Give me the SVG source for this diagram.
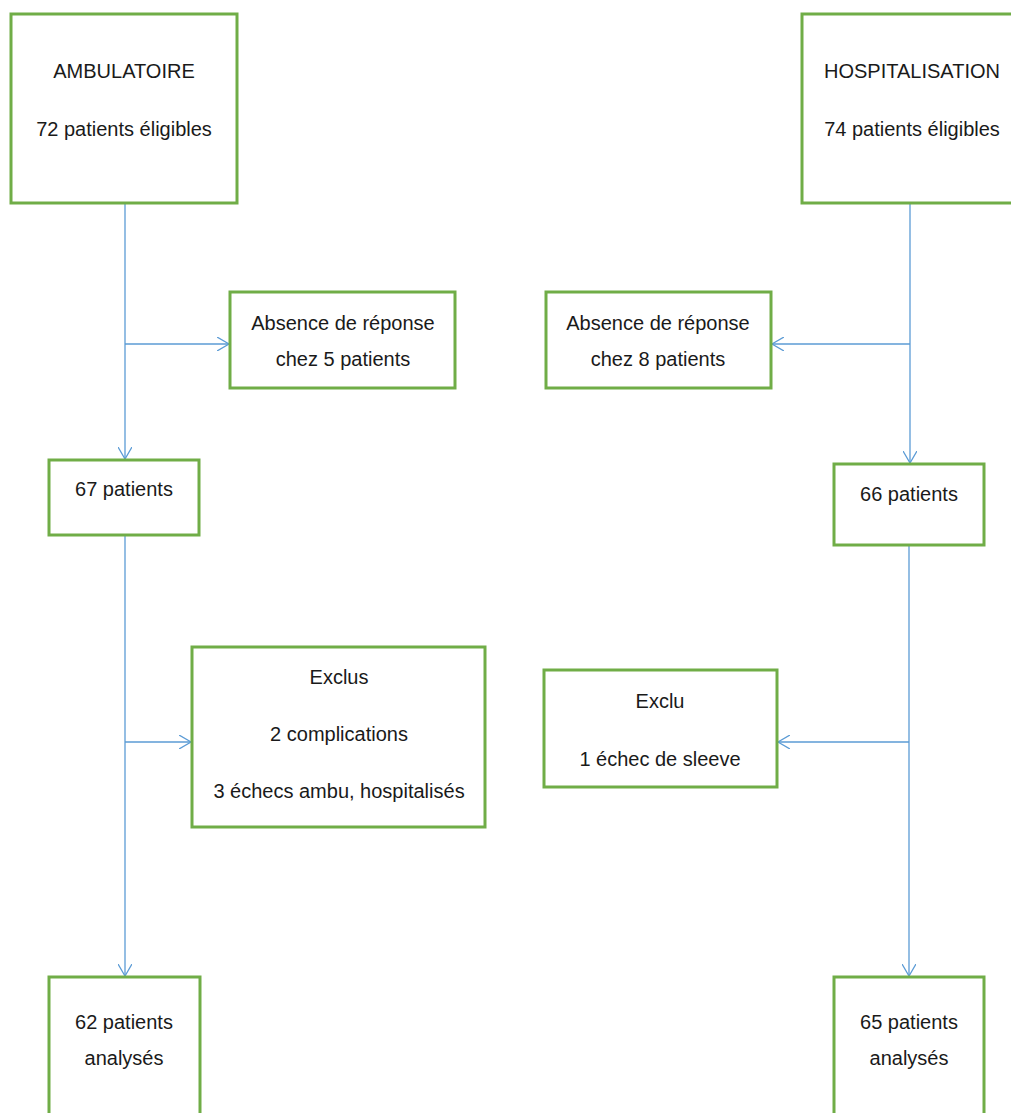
<svg xmlns="http://www.w3.org/2000/svg" width="1011" height="1113" viewBox="0 0 1011 1113">
<defs>
<style>
.box{fill:#fff;stroke:#70AD47;stroke-width:3}
.t{font-family:"Liberation Sans",Arial,sans-serif;font-size:20px;fill:#1a1a1a;text-anchor:middle}
.c{fill:none;stroke:#5B9BD5;stroke-width:1.3}
</style>
<marker id="ah" markerWidth="14" markerHeight="14" refX="12" refY="7" orient="auto" markerUnits="userSpaceOnUse">
<path d="M0,0 L12,7 L0,14" fill="none" stroke="#5B9BD5" stroke-width="1.3"/>
</marker>
</defs>
<rect width="1011" height="1113" fill="#fff"/>
<g id="connectors">
<line class="c" x1="125" y1="203" x2="125" y2="459" marker-end="url(#ah)"/>
<line class="c" x1="125" y1="344" x2="229" y2="344" marker-end="url(#ah)"/>
<line class="c" x1="125" y1="535" x2="125" y2="976" marker-end="url(#ah)"/>
<line class="c" x1="125" y1="742" x2="191" y2="742" marker-end="url(#ah)"/>
<line class="c" x1="910" y1="203" x2="910" y2="463" marker-end="url(#ah)"/>
<line class="c" x1="910" y1="344" x2="772" y2="344" marker-end="url(#ah)"/>
<line class="c" x1="909" y1="545" x2="909" y2="976" marker-end="url(#ah)"/>
<line class="c" x1="909" y1="742" x2="778" y2="742" marker-end="url(#ah)"/>
</g>
<g id="n-ambu">
<rect class="box" x="11" y="14" width="226" height="189"/>
<text class="t" x="124" y="78">AMBULATOIRE</text>
<text class="t" x="124" y="136">72 patients éligibles</text>
</g>
<g id="n-hosp">
<rect class="box" x="802" y="14" width="225" height="189"/>
<text class="t" x="912" y="78">HOSPITALISATION</text>
<text class="t" x="912" y="136">74 patients éligibles</text>
</g>
<g id="n-abs5">
<rect class="box" x="230" y="292" width="225" height="96"/>
<text class="t" x="343" y="330">Absence de réponse</text>
<text class="t" x="343" y="366">chez 5 patients</text>
</g>
<g id="n-abs8">
<rect class="box" x="546" y="292" width="225" height="96"/>
<text class="t" x="658" y="330">Absence de réponse</text>
<text class="t" x="658" y="366">chez 8 patients</text>
</g>
<g id="n-67">
<rect class="box" x="49" y="460" width="150" height="75"/>
<text class="t" x="124" y="496">67 patients</text>
</g>
<g id="n-66">
<rect class="box" x="834" y="464" width="150" height="81"/>
<text class="t" x="909" y="501">66 patients</text>
</g>
<g id="n-exclus">
<rect class="box" x="192" y="647" width="293" height="180"/>
<text class="t" x="339" y="684">Exclus</text>
<text class="t" x="339" y="741">2 complications</text>
<text class="t" x="339" y="798">3 échecs ambu, hospitalisés</text>
</g>
<g id="n-exclu">
<rect class="box" x="544" y="670" width="233" height="117"/>
<text class="t" x="660" y="708">Exclu</text>
<text class="t" x="660" y="766">1 échec de sleeve</text>
</g>
<g id="n-62">
<rect class="box" x="49" y="977" width="151" height="150"/>
<text class="t" x="124" y="1029">62 patients</text>
<text class="t" x="124" y="1065">analysés</text>
</g>
<g id="n-65">
<rect class="box" x="834" y="977" width="150" height="150"/>
<text class="t" x="909" y="1029">65 patients</text>
<text class="t" x="909" y="1065">analysés</text>
</g>
</svg>
